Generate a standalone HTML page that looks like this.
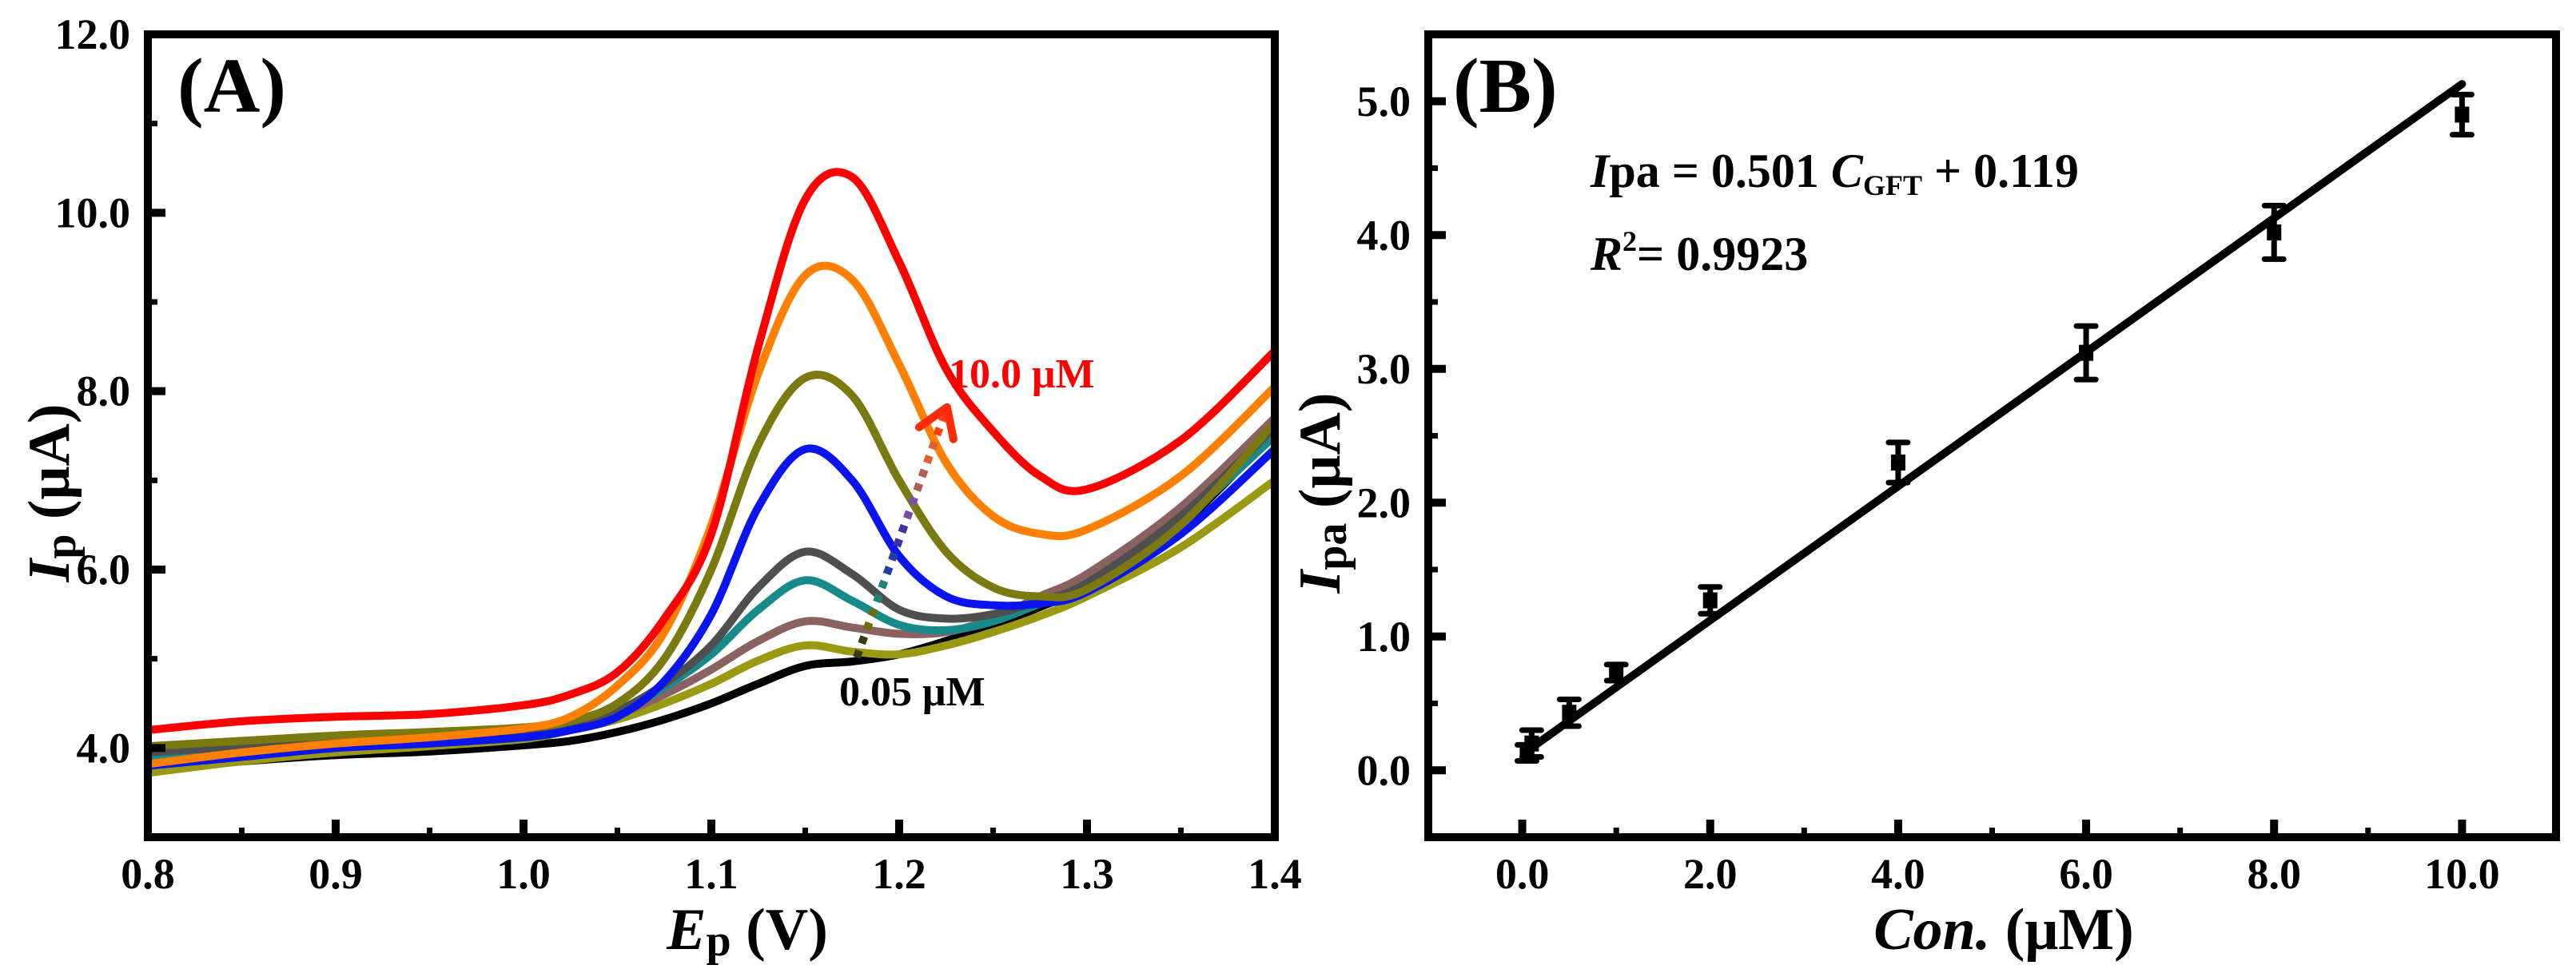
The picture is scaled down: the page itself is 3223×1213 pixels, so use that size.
<!DOCTYPE html>
<html><head><meta charset="utf-8"><style>
html,body{margin:0;padding:0;background:#fff;}
svg{display:block;font-family:"Liberation Serif",serif;font-weight:bold;}
</style></head><body>
<svg id="fig" width="3223" height="1213" viewBox="0 0 3223 1213" xmlns="http://www.w3.org/2000/svg">
<g id="pa"></g>
<g id="pb"></g>
</svg>
<script>
// ---------- Panel A data ----------
const potA = [0.8,0.85,0.9,0.95,1.0,1.025,1.05,1.075,1.1,1.125,1.15,1.175,1.2,1.225,1.25,1.275,1.3,1.35,1.4];
const concLabels = ["0.05","0.1","0.5","1.0","2.0","4.0","6.0","8.0","10.0"];
const curveColors = ["#000000","#9a9a12","#8a6262","#178a8a","#4f4f4f","#0a14f0","#7a7a10","#ff8000","#ff0000"];
const cur005 = [3.75,3.85,3.92,3.96,4.03,4.08,4.18,4.32,4.5,4.72,4.92,4.97,5.05,5.2,5.38,5.58,5.82,6.5,7.55];
const cur01  = [3.72,3.85,3.95,4.02,4.1,4.2,4.32,4.5,4.72,4.98,5.15,5.08,5.05,5.15,5.3,5.48,5.7,6.25,7.0];
const cur05  = [4.0,4.05,4.1,4.14,4.2,4.27,4.38,4.6,4.88,5.2,5.42,5.35,5.28,5.3,5.45,5.7,5.95,6.7,7.7];
const cur1   = [3.9,4.0,4.08,4.13,4.2,4.27,4.4,4.68,5.05,5.55,5.88,5.65,5.38,5.32,5.42,5.62,5.85,6.55,7.5];
const cur2   = [3.95,4.02,4.1,4.14,4.2,4.28,4.42,4.72,5.15,5.8,6.2,5.95,5.55,5.45,5.5,5.65,5.85,6.6,7.6];
const cur4   = [3.8,3.9,4.0,4.05,4.12,4.2,4.35,4.75,5.5,6.7,7.35,7.0,6.15,5.7,5.6,5.62,5.75,6.4,7.35];
const cur6   = [4.02,4.08,4.14,4.18,4.23,4.3,4.5,5.0,6.0,7.4,8.15,7.95,7.0,6.2,5.8,5.7,5.78,6.5,7.65];
const cur8   = [3.82,3.95,4.05,4.12,4.22,4.35,4.7,5.3,6.5,8.2,9.3,9.25,8.3,7.2,6.6,6.4,6.45,7.05,8.05];
const cur10  = [4.2,4.3,4.35,4.38,4.48,4.6,4.85,5.45,6.4,8.5,10.15,10.4,9.45,8.25,7.55,7.05,6.9,7.45,8.45];
const curvesA = [cur005,cur01,cur05,cur1,cur2,cur4,cur6,cur8,cur10];
const xTicksA = [0.8,0.9,1.0,1.1,1.2,1.3,1.4];
const yTicksA = [4,6,8,10,12];
const arrowStart = [1.1774,5.015];
const arrowEnd = [1.2255,7.82];

// ---------- Panel B data ----------
const concB = [0.05,0.1,0.5,1,2,4,6,8,10];
const ipaB = [0.13,0.2,0.43,0.73,1.27,2.3,3.12,4.02,4.9];
const errB = [0.06,0.1,0.1,0.06,0.1,0.15,0.2,0.2,0.15];
const fitSlope = 0.501, fitIntercept = 0.119;
const xTicksB = [0,2,4,6,8,10];
const yTicksB = [0,1,2,3,4,5];

const NS = "http://www.w3.org/2000/svg";
function mk(parent, tag, attrs, text){
  const e = document.createElementNS(NS, tag);
  for (const k in attrs) e.setAttribute(k, attrs[k]);
  if (text !== undefined) e.textContent = text;
  parent.appendChild(e);
  return e;
}
function smoothPath(pts){
  let d = "M" + pts[0][0] + "," + pts[0][1];
  for (let i=0;i<pts.length-1;i++){
    const p0 = pts[Math.max(0,i-1)], p1 = pts[i], p2 = pts[i+1], p3 = pts[Math.min(pts.length-1,i+2)];
    const c1x = p1[0]+(p2[0]-p0[0])/6, c1y = p1[1]+(p2[1]-p0[1])/6;
    const c2x = p2[0]-(p3[0]-p1[0])/6, c2y = p2[1]-(p3[1]-p1[1])/6;
    d += " C"+c1x+","+c1y+" "+c2x+","+c2y+" "+p2[0]+","+p2[1];
  }
  return d;
}

// ----- Panel A -----
const A = {L:185,R:1595,T:43,B:1048,x0:0.8,x1:1.4,y0:3,y1:12};
const xA = v => A.L + (v-A.x0)/(A.x1-A.x0)*(A.R-A.L);
const yA = v => A.B - (v-A.y0)/(A.y1-A.y0)*(A.B-A.T);
const pa = document.getElementById('pa');
curvesA.forEach((c,i)=>{
  const p = mk(pa,'path',{d:smoothPath(c.map((v,j)=>[xA(potA[j]),yA(v)])),fill:'none',stroke:curveColors[i],'stroke-width':10,'stroke-linejoin':'round','stroke-linecap':'round'});
  
  
});
const arrowCols = ["#3a3a10","#6b6b10","#20807a","#2040a0","#4030a0","#7a50a0","#b06050","#e06030","#ff4010"];
const nDots = 18;
for (let k=0;k<nDots;k++){
  const t0 = k/nDots, t1 = (k+0.5)/nDots;
  const xs = xA(arrowStart[0]+(arrowEnd[0]-arrowStart[0])*t0), ys = yA(arrowStart[1]+(arrowEnd[1]-arrowStart[1])*t0);
  const xe = xA(arrowStart[0]+(arrowEnd[0]-arrowStart[0])*t1), ye = yA(arrowStart[1]+(arrowEnd[1]-arrowStart[1])*t1);
  const seg = mk(pa,'line',{x1:xs,y1:ys,x2:xe,y2:ye,stroke:arrowCols[Math.floor(k/nDots*arrowCols.length)],'stroke-width':10});
  
  
}
{
  const ex = xA(arrowEnd[0]), ey = yA(arrowEnd[1]);
  const head = mk(pa,'path',{d:`M${ex-35},${ey+25} L${ex},${ey} L${ex+8},${ey+40}`,fill:'none',stroke:'#ff2a0a','stroke-width':10,'stroke-linecap':'round','stroke-linejoin':'round'});
  
  
}
{
  const fr = mk(pa,'rect',{x:A.L,y:A.T,width:A.R-A.L,height:A.B-A.T,fill:'none',stroke:'#000','stroke-width':10});
  
  
}
for (let v=0.8; v<=1.4001; v+=0.05){
  const major = Math.abs(Math.round(v*10)-v*10)<1e-6;
  const t = mk(pa,'line',{x1:xA(v),x2:xA(v),y1:A.B,y2:A.B-(major?22:12),stroke:'#000','stroke-width':major?10:7});
  
  
}
for (let v=4; v<=12; v+=1){
  const major = v%2===0;
  const t = mk(pa,'line',{x1:A.L,x2:A.L+(major?22:12),y1:yA(v),y2:yA(v),stroke:'#000','stroke-width':major?10:7});
  
  
}
xTicksA.forEach(v=>{
  const t = mk(pa,'text',{x:xA(v),y:1112,'font-size':54,'text-anchor':'middle'},v.toFixed(1));
  
  
});
yTicksA.forEach(v=>{
  const t = mk(pa,'text',{x:163,y:yA(v)+18,'font-size':54,'text-anchor':'end'},v.toFixed(1));
  
  
});
{
  let t = mk(pa,'text',{x:222,y:140,'font-size':98},'(A)');
   
  t = mk(pa,'text',{x:1187,y:485,'font-size':52,fill:'#ff0000'},'10.0 μM');
   
  t = mk(pa,'text',{x:1050,y:883,'font-size':52,fill:'#000'},'0.05 μM');
   
  t = mk(pa,'text',{x:935,y:1188,'font-size':74,'text-anchor':'middle'});
  t.innerHTML = '<tspan font-style="italic">E</tspan><tspan font-size="56" dy="8">p</tspan><tspan dy="-8"> (V)</tspan>';
   
  t = mk(pa,'text',{x:0,y:0,'font-size':74,'text-anchor':'middle',transform:'translate(86,617) rotate(-90)'});
  t.innerHTML = '<tspan font-style="italic">I</tspan><tspan font-size="56" dy="8">p</tspan><tspan dy="-8"> (μA)</tspan>';
   
}

// ----- Panel B -----
const B = {L:1787,R:3198,T:43,B:1048,x0:-1,x1:11,y0:-0.5,y1:5.5};
const xB = v => B.L + (v-B.x0)/(B.x1-B.x0)*(B.R-B.L);
const yB = v => B.B - (v-B.y0)/(B.y1-B.y0)*(B.B-B.T);
const pb = document.getElementById('pb');
{
  const fx0 = concB[0], fx1 = concB[concB.length-1];
  const fl = mk(pb,'line',{x1:xB(fx0),y1:yB(fitSlope*fx0+fitIntercept),x2:xB(fx1),y2:yB(fitSlope*fx1+fitIntercept),stroke:'#000','stroke-width':10,'stroke-linecap':'round'});
  
  
}
concB.forEach((c,i)=>{
  const x = xB(c), y = yB(ipaB[i]), yt = yB(ipaB[i]+errB[i]), yb = yB(ipaB[i]-errB[i]);
  const g = mk(pb,'g',{});
  
  
  mk(g,'line',{x1:x,x2:x,y1:yt,y2:yb,stroke:'#000','stroke-width':7});
  mk(g,'line',{x1:x-12,x2:x+12,y1:yt,y2:yt,stroke:'#000','stroke-width':7,'stroke-linecap':'round'});
  mk(g,'line',{x1:x-12,x2:x+12,y1:yb,y2:yb,stroke:'#000','stroke-width':7,'stroke-linecap':'round'});
  mk(g,'rect',{x:x-9,y:y-10,width:18,height:20,fill:'#000'});
});
{
  const fr = mk(pb,'rect',{x:B.L,y:B.T,width:B.R-B.L,height:B.B-B.T,fill:'none',stroke:'#000','stroke-width':10});
  
  
}
for (let v=0; v<=10; v+=1){
  const major = v%2===0;
  const t = mk(pb,'line',{x1:xB(v),x2:xB(v),y1:B.B,y2:B.B-(major?22:12),stroke:'#000','stroke-width':major?10:7});
  
  
}
for (let v=0; v<=5.01; v+=0.5){
  const major = Math.abs(v-Math.round(v))<1e-6;
  const t = mk(pb,'line',{x1:B.L,x2:B.L+(major?22:12),y1:yB(v),y2:yB(v),stroke:'#000','stroke-width':major?10:7});
  
  
}
xTicksB.forEach(v=>{
  const t = mk(pb,'text',{x:xB(v),y:1112,'font-size':54,'text-anchor':'middle'},v.toFixed(1));
  
  
});
yTicksB.forEach(v=>{
  const t = mk(pb,'text',{x:1765,y:yB(v)+18,'font-size':54,'text-anchor':'end'},v.toFixed(1));
  
  
});
{
  let t = mk(pb,'text',{x:1818,y:140,'font-size':98},'(B)');
   
  t = mk(pb,'text',{x:1990,y:234,'font-size':60});
  t.innerHTML = '<tspan font-style="italic">I</tspan>pa = 0.501 <tspan font-style="italic">C</tspan><tspan font-size="36" dy="10">GFT</tspan><tspan dy="-10"> + 0.119</tspan>';
   
  t = mk(pb,'text',{x:1990,y:338,'font-size':60});
  t.innerHTML = '<tspan font-style="italic">R</tspan><tspan font-size="36" dy="-24">2</tspan><tspan dy="24">= 0.9923</tspan>';
   
  t = mk(pb,'text',{x:2507,y:1188,'font-size':74,'text-anchor':'middle'});
  t.innerHTML = '<tspan font-style="italic">Con.</tspan> (μM)';
   
  t = mk(pb,'text',{x:0,y:0,'font-size':74,'text-anchor':'middle',transform:'translate(1676,617) rotate(-90)'});
  t.innerHTML = '<tspan font-style="italic">I</tspan><tspan font-size="56" dy="8">pa</tspan><tspan dy="-8"> (μA)</tspan>';
   
}
</script>
</body></html>
